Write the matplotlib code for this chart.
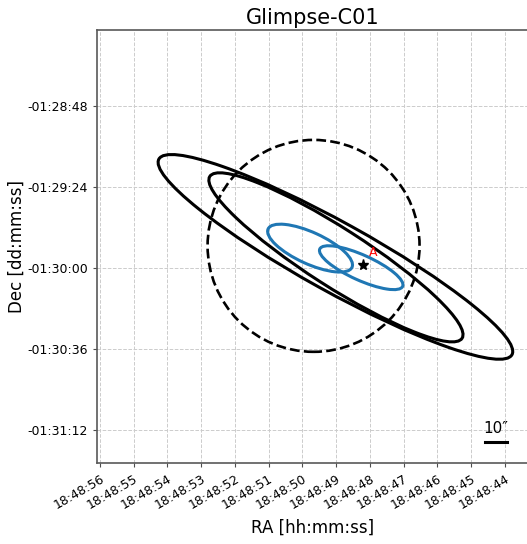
import numpy as np
import matplotlib.pyplot as plt
from matplotlib.patches import Ellipse, Circle

# reference point of the offset frame (RA 18:48:48, Dec -01:30:00)
ra_ref = 48.0            # seconds past 18:48
dec_ref = -5400.0        # arcsec
cosd = np.cos(np.radians(dec_ref / 3600.0))

# error ellipses: RA [s past 18:48], Dec [arcsec], semi-axes [arcsec], PA [deg E of N]
black_ra = [49.022, 49.007]
black_dec = [-5395.1, -5395.3]
black_a = [89.7, 66.6]
black_b = [15.3, 12.9]
black_pa = [61.0, 57.3]

blue_ra = [49.774, 48.258]
blue_dec = [-5391.2, -5399.9]
blue_a = [20.5, 20.2]
blue_b = [7.0, 5.6]
blue_pa = [65.4, 65.7]

# dashed search radius
circ_ra = 49.67
circ_dec = -5390.2
circ_r = 47.1

# source position
src_ra = 48.21
src_dec = -5398.7
src_name = "A"

ra_ticks = [56, 55, 54, 53, 52, 51, 50, 49, 48, 47, 46, 45, 44]
dec_ticks = [-5328, -5364, -5400, -5436, -5472]
scale_len = 10.0


def to_x(ra_s):
    return (np.asarray(ra_s) - ra_ref) * 15.0 * cosd


def to_y(dec_s):
    return np.asarray(dec_s) - dec_ref


def dec_label(d):
    sign = '-' if d < 0 else '+'
    d = abs(int(round(d)))
    return "%s%02d:%02d:%02d" % (sign, d // 3600, (d % 3600) // 60, d % 60)


fig = plt.figure(figsize=(5.27, 5.44), dpi=100)
ax = fig.add_axes([0.184, 0.149, 0.8198, 0.796])

for ra, dec, a, b, pa in zip(black_ra, black_dec, black_a, black_b, black_pa):
    ax.add_patch(Ellipse((to_x(ra), to_y(dec)), 2 * a, 2 * b, angle=90 - pa,
                         fill=False, ec='black', lw=2.2, zorder=3))

for ra, dec, a, b, pa in zip(blue_ra, blue_dec, blue_a, blue_b, blue_pa):
    ax.add_patch(Ellipse((to_x(ra), to_y(dec)), 2 * a, 2 * b, angle=90 - pa,
                         fill=False, ec='#1f77b4', lw=2.2, zorder=3))

ax.add_patch(Circle((to_x(circ_ra), to_y(circ_dec)), circ_r, fill=False,
                    ec='black', lw=1.9, ls='--', zorder=3))

ax.plot(to_x(src_ra), to_y(src_dec), marker='*', color='black', ms=8, zorder=4)
ax.annotate(src_name, (to_x(src_ra), to_y(src_dec)), xytext=(7.6, 9.0),
            textcoords='offset points', color='red', fontsize=9,
            ha='center', va='center', zorder=4)

# scale bar
bar_x = -56.0
bar_y = -77.2
ax.plot([bar_x + scale_len / 2, bar_x - scale_len / 2], [bar_y, bar_y],
        color='black', lw=2.2, solid_capstyle='projecting', zorder=4)
ax.text(bar_x, bar_y + 2.6, "10\u2033", ha='center', va='bottom', fontsize=11)

ax.set_xlim(121.3, -70.7)
ax.set_ylim(-86.7, 105.8)

ax.set_xticks(to_x(ra_ticks))
ax.set_xticklabels(["18:48:%02d" % s for s in ra_ticks], rotation=30, ha='right',
                   rotation_mode='anchor')
ax.set_yticks(to_y(dec_ticks))
ax.set_yticklabels([dec_label(d) for d in dec_ticks])

ax.tick_params(direction='out', length=3, width=0.8, color='0.3', labelsize=9)
for sp in ax.spines.values():
    sp.set_color('0.35')
    sp.set_linewidth(1.2)
ax.spines['right'].set_visible(False)

ax.grid(True, color='#cccccc', ls='--', lw=0.7)
ax.set_axisbelow(True)

ax.set_xlabel("RA [hh:mm:ss]", fontsize=12, labelpad=5)
ax.set_ylabel("Dec [dd:mm:ss]", fontsize=12, labelpad=1)
ax.set_title("Glimpse-C01", fontsize=15, pad=4)

fig.savefig("out.png", dpi=100)
